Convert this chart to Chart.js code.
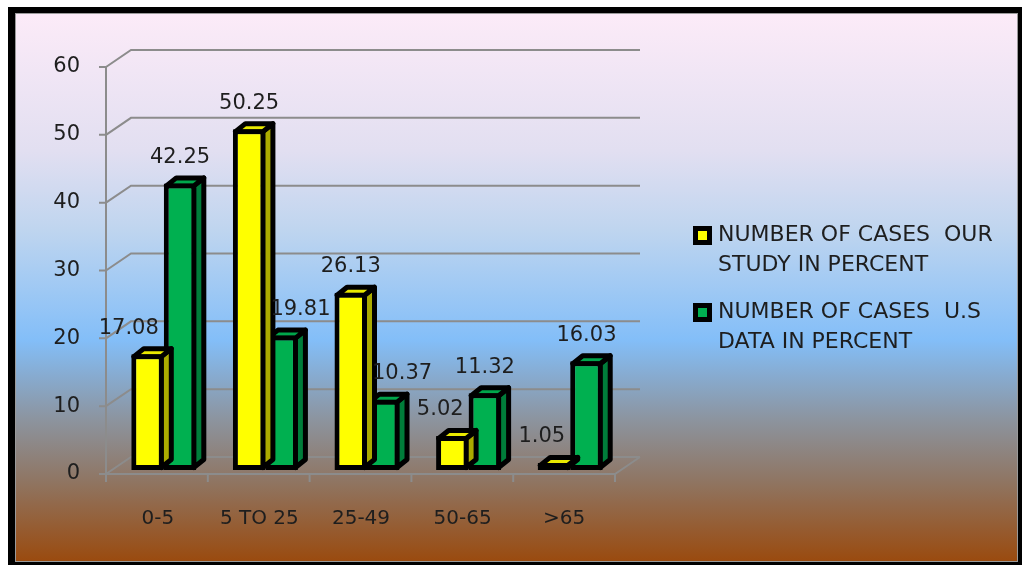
<!DOCTYPE html>
<html>
<head>
<meta charset="utf-8">
<script src="https://cdn.jsdelivr.net/npm/chart.js@4/dist/chart.umd.min.js"></script>
<style>
  html, body { margin: 0; padding: 0; background: #ffffff; overflow: hidden; }
  #c { display: block; }
</style>
</head>
<body>
<canvas id="c" width="1022" height="565"></canvas>
<script>
// ---- data ----
const categories = ['0-5', '5 TO 25', '25-49', '50-65', '>65'];
const ourStudy = [17.08, 50.25, 26.13, 5.02, 1.05];
const usData = [42.25, 19.81, 10.37, 11.32, 16.03];
const seriesNames = ['NUMBER OF CASES  OUR STUDY IN PERCENT', 'NUMBER OF CASES  U.S DATA IN PERCENT'];
const legendLines = [['NUMBER OF CASES  OUR', 'STUDY IN PERCENT'], ['NUMBER OF CASES  U.S', 'DATA IN PERCENT']];
const yTicks = [0, 10, 20, 30, 40, 50, 60];

// ---- styles ----
const FONT = '"DejaVu Sans", "Liberation Sans", sans-serif';
const TEXT = '#1e1e1e';
const faceColors = [
  { front: '#FFFF00', top: '#E9E900', side: '#ABAB00' },
  { front: '#00B050', top: '#00A64B', side: '#007D3A' }
];
const WALL_DX = 25, WALL_DY = -17;   // depth of the 3D walls
const BAR_DX = 10, BAR_DY = -8;      // depth of the bars
const BAR_SHIFT_X = 6, BAR_SHIFT_Y = -4; // bars sit a bit behind the front plane
const GRID = '#8c8c8c';
const OUTLINE = 5;

const bgPlugin = {
  id: 'bg',
  beforeDraw(chart) {
    const ctx = chart.ctx;
    ctx.save();
    ctx.fillStyle = '#ffffff';
    ctx.fillRect(0, 0, 1022, 565);
    ctx.fillStyle = '#000000';
    ctx.fillRect(8, 7, 1022 - 8, 565 - 7);
    const g = ctx.createLinearGradient(0, 13, 0, 562);
    g.addColorStop(0, '#FCEBF8');
    g.addColorStop(0.25, '#E2DFF1');
    g.addColorStop(0.395, '#BFD5EF');
    g.addColorStop(0.596, '#83BEF8');
    g.addColorStop(0.74, '#8C949F');
    g.addColorStop(0.85, '#8F7664');
    g.addColorStop(1, '#9A4A0E');
    ctx.fillStyle = g;
    ctx.fillRect(15, 13, 1018 - 15, 562 - 13);
    ctx.strokeStyle = '#9a9a9a';
    ctx.lineWidth = 1;
    ctx.strokeRect(15.5, 13.5, 1018 - 16, 562 - 14);
    ctx.restore();
  }
};

const wallPlugin = {
  id: 'walls',
  beforeDatasetsDraw(chart) {
    const ctx = chart.ctx;
    const ys = chart.scales.y;
    const L = chart.chartArea.left - 1, R = chart.chartArea.right;
    const B = ys.getPixelForValue(0);
    ctx.save();
    ctx.strokeStyle = GRID;
    ctx.lineWidth = 2;
    ctx.beginPath();
    ctx.moveTo(L, ys.getPixelForValue(yTicks[yTicks.length - 1]));
    ctx.lineTo(L, B);
    yTicks.forEach(v => {
      const y = ys.getPixelForValue(v);
      ctx.moveTo(L - 7, y); ctx.lineTo(L, y);
      ctx.moveTo(L, y); ctx.lineTo(L + WALL_DX, y + WALL_DY);
      ctx.lineTo(R + WALL_DX, y + WALL_DY);
    });
    ctx.moveTo(L, B); ctx.lineTo(R, B); ctx.lineTo(R + WALL_DX, B + WALL_DY);
    const n = categories.length;
    for (let i = 0; i <= n; i++) {
      const x = L + (R - L) * i / n;
      ctx.moveTo(x, B); ctx.lineTo(x, B + 8);
    }
    ctx.stroke();
    ctx.restore();
    ctx.save();
    ctx.translate(BAR_SHIFT_X, BAR_SHIFT_Y);
  },
  beforeDatasetDraw(chart, args) {
    const ctx = chart.ctx;
    const meta = args.meta;
    const col = faceColors[args.index];
    const h = OUTLINE / 2;
    ctx.save();
    ctx.lineWidth = OUTLINE;
    ctx.lineJoin = 'round';
    ctx.strokeStyle = '#000000';
    meta.data.forEach(bar => {
      const p = bar.getProps(['x', 'y', 'base', 'width'], true);
      const l = p.x - p.width / 2 + h, r = p.x + p.width / 2 - h;
      const t = Math.min(p.y, p.base) + h, b = Math.max(p.y, p.base) - h;
      ctx.beginPath();
      ctx.moveTo(r, t); ctx.lineTo(r + BAR_DX, t + BAR_DY);
      ctx.lineTo(r + BAR_DX, b + BAR_DY); ctx.lineTo(r, b); ctx.closePath();
      ctx.fillStyle = col.side; ctx.fill(); ctx.stroke();
      ctx.beginPath();
      ctx.moveTo(l, t); ctx.lineTo(r, t);
      ctx.lineTo(r + BAR_DX, t + BAR_DY); ctx.lineTo(l + BAR_DX, t + BAR_DY); ctx.closePath();
      ctx.fillStyle = col.top; ctx.fill(); ctx.stroke();
    });
    ctx.restore();
  },
  afterDatasetsDraw(chart) {
    const ctx = chart.ctx;
    ctx.restore();
    const m0 = chart.getDatasetMeta(0), m1 = chart.getDatasetMeta(1);
    ctx.save();
    ctx.font = '21px ' + FONT;
    ctx.fillStyle = TEXT;
    ctx.textBaseline = 'middle';
    categories.forEach((c, i) => {
      const a = ourStudy[i], b = usData[i];
      const ya = m0.data[i].getProps(['x', 'y', 'width'], true);
      const yb = m1.data[i].getProps(['x', 'y', 'width'], true);
      if (a < b) { ctx.textAlign = 'right'; ctx.fillText(a.toFixed(2), ya.x + ya.width / 2 + BAR_SHIFT_X - 5, ya.y - 30); }
      else { ctx.textAlign = 'center'; ctx.fillText(a.toFixed(2), ya.x + BAR_SHIFT_X, ya.y - 30); }
      if (b < a) { ctx.textAlign = 'left'; ctx.fillText(b.toFixed(2), yb.x - yb.width / 2 + BAR_SHIFT_X + 5, yb.y - 30); }
      else { ctx.textAlign = 'center'; ctx.fillText(b.toFixed(2), yb.x + BAR_SHIFT_X, yb.y - 30); }
    });
    ctx.restore();
  }
};

const legendPlugin = {
  id: 'legend3d',
  afterDraw(chart) {
    const ctx = chart.ctx;
    ctx.save();
    ctx.font = '22px ' + FONT;
    ctx.textBaseline = 'middle';
    ctx.textAlign = 'left';
    const starts = [235, 312];
    chart.data.datasets.forEach((ds, i) => {
      const y0 = starts[i];
      ctx.fillStyle = '#000000';
      ctx.fillRect(693, y0 - 9, 19, 19);
      ctx.fillStyle = ds.backgroundColor;
      ctx.fillRect(698, y0 - 4, 9, 9);
      ctx.fillStyle = TEXT;
      legendLines[i].forEach((line, k) => ctx.fillText(line, 718, y0 + k * 30));
    });
    ctx.restore();
  }
};

new Chart(document.getElementById('c'), {
  type: 'bar',
  data: {
    labels: categories,
    datasets: [
      { label: seriesNames[0], data: ourStudy, backgroundColor: faceColors[0].front, borderColor: '#000000', borderWidth: OUTLINE, borderSkipped: false, clip: false },
      { label: seriesNames[1], data: usData, backgroundColor: faceColors[1].front, borderColor: '#000000', borderWidth: OUTLINE, borderSkipped: false, clip: false }
    ]
  },
  options: {
    responsive: false,
    animation: false,
    events: [],
    categoryPercentage: 0.64,
    barPercentage: 1.0,
    layout: { padding: { left: 0, top: 67, right: 407, bottom: 31 } },
    plugins: { legend: { display: false }, tooltip: { enabled: false } },
    scales: {
      x: {
        grid: { display: false, drawTicks: false },
        border: { display: false },
        ticks: { font: { family: FONT, size: 20 }, color: TEXT, padding: 33, maxRotation: 0, autoSkip: false },
        afterFit(s) { s.height = 60; }
      },
      y: {
        min: 0, max: 60,
        grid: { display: false, drawTicks: false },
        border: { display: false },
        ticks: { stepSize: 10, font: { family: FONT, size: 21 }, color: TEXT, padding: 27 },
        afterFit(s) { s.width = 107; }
      }
    }
  },
  plugins: [bgPlugin, wallPlugin, legendPlugin]
});
</script>
</body>
</html>
